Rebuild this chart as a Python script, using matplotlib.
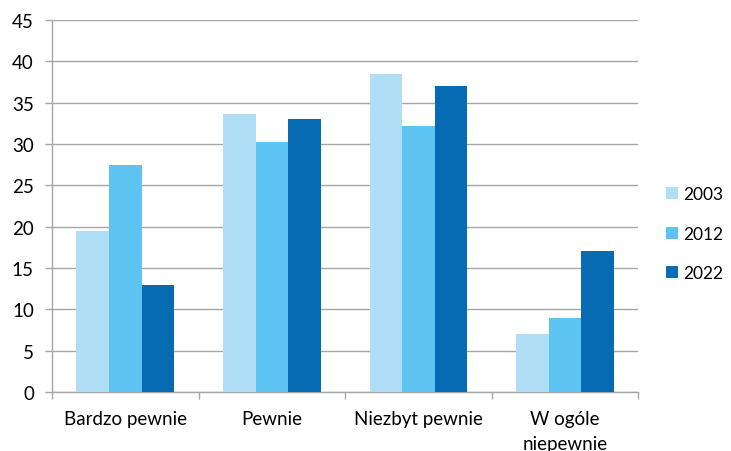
import numpy as np
import matplotlib
matplotlib.use("Agg")
import matplotlib.pyplot as plt

# ============================================================
# DATA
# ============================================================

categories = ["Bardzo pewnie", "Pewnie", "Niezbyt pewnie", "W ogóle\nniepewnie"]
years = ["2003", "2012", "2022"]

values_2003 = [19.5, 33.6, 38.5, 7.0]
values_2012 = [27.5, 30.3, 32.2, 9.0]
values_2022 = [13.0, 33.0, 37.0, 17.0]

colors = ["#B0DEF7", "#5DC3F0", "#066BB3"]

# ============================================================
# FIGURE
# ============================================================

plt.rcParams['font.family'] = ['Lato', 'DejaVu Sans']
plt.rcParams['font.size'] = 13.5

fig = plt.figure(figsize=(7.31, 4.52), dpi=100)
ax = fig.add_axes([0.0711, 0.1305, 0.8019, 0.823])

x = np.arange(len(categories))
bar_w = 0.222

series = [values_2003, values_2012, values_2022]

for k, (vals, col, lab) in enumerate(zip(series, colors, years)):
    ax.bar(
        x + (k - 1) * bar_w,
        vals,
        width=bar_w,
        color=col,
        label=lab,
        zorder=3
    )

# ------------------------------------------------------------
# axes styling
# ------------------------------------------------------------

grid_col = "#A6A6A6"

ax.set_xlim(-0.5, len(categories) - 0.5)
ax.set_ylim(0, 45)
ax.set_yticks(np.arange(0, 46, 5))

ax.yaxis.grid(True, color=grid_col, linewidth=1.0, zorder=0)
ax.set_axisbelow(True)

for side in ["top", "right"]:
    ax.spines[side].set_visible(False)
for side in ["left", "bottom"]:
    ax.spines[side].set_color(grid_col)
    ax.spines[side].set_linewidth(1.0)

ax.set_xticks(x)
ax.set_xticklabels(categories, linespacing=1.55)
ax.tick_params(axis="x", length=0, pad=13)

# category boundary ticks
ax.set_xticks(np.arange(-0.5, len(categories), 1.0), minor=True)
ax.tick_params(axis="x", which="minor", length=5, color=grid_col, width=1.0)

ax.tick_params(axis="y", length=5, color=grid_col, width=1.0, pad=8)

# ------------------------------------------------------------
# legend
# ------------------------------------------------------------

ax.legend(
    loc="center left",
    bbox_to_anchor=(1.021, 0.425),
    frameon=False,
    handlelength=0.7,
    handleheight=0.7,
    handletextpad=0.3,
    labelspacing=1.35,
    fontsize=12.5
)

fig.savefig("out.png", dpi=100)
